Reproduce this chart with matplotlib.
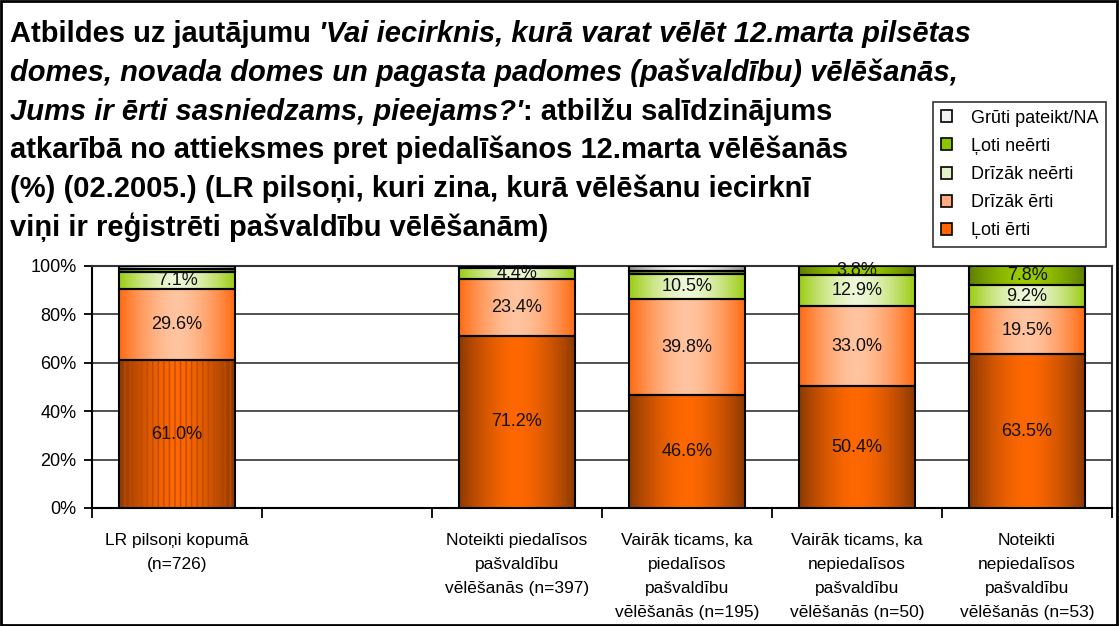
import numpy as np
import matplotlib
matplotlib.use("Agg")
import matplotlib.pyplot as plt
from matplotlib.colors import LinearSegmentedColormap
from matplotlib.patches import Patch, Rectangle

plt.rcParams['font.family'] = ['Liberation Sans', 'DejaVu Sans']

# data
categories = ["LR pilsoņi kopumā\n(n=726)", "",
              "Noteikti piedalīsos\npašvaldību\nvēlēšanās (n=397)",
              "Vairāk ticams, ka\npiedalīsos\npašvaldību\nvēlēšanās (n=195)",
              "Vairāk ticams, ka\nnepiedalīsos\npašvaldību\nvēlēšanās (n=50)",
              "Noteikti\nnepiedalīsos\npašvaldību\nvēlēšanās (n=53)"]
series = ["Ļoti ērti", "Drīzāk ērti", "Drīzāk neērti", "Ļoti neērti", "Grūti pateikt/NA"]
loti_erti = [61.0, 0, 71.2, 46.6, 50.4, 63.5]
drizak_erti = [29.6, 0, 23.4, 39.8, 33.0, 19.5]
drizak_neerti = [7.1, 0, 4.4, 10.5, 12.9, 9.2]
loti_neerti = [1.2, 0, 0.6, 1.0, 3.8, 7.8]
grut_na = [1.1, 0, 0.4, 2.1, 0.0, 0.0]
values = [loti_erti, drizak_erti, drizak_neerti, loti_neerti, grut_na]

# gradient colors (edge, center) and legend swatch colours
grad = [("#8c3a02", "#ff6800"), ("#ff6a10", "#ffc4a0"), ("#9acc10", "#eef7d8"),
        ("#5f7f00", "#9acc00"), ("#909090", "#f4f4f4")]
swatch = ["#ff6600", "#ffaa80", "#e3f2c6", "#8fc400", "#f2f2f2"]
show_label = [True, True, True, True, False]

W, H = 1119, 626
fig = plt.figure(figsize=(W / 100, H / 100), dpi=100)
ax = fig.add_axes([92 / W, 1 - 508 / H, (1112 - 92) / W, (508 - 266) / H])

x = np.arange(len(categories))
bw = 0.68
gx = np.abs(np.linspace(-1, 1, 200))[None, :]
bottom = np.zeros(len(categories))
for k, vals in enumerate(values):
    cmap = LinearSegmentedColormap.from_list("g%d" % k, [grad[k][1], grad[k][0]])
    for i, v in enumerate(vals):
        if v <= 0:
            continue
        b = bottom[i]
        rect = Rectangle((x[i] - bw / 2, b), bw, v, facecolor="none",
                         edgecolor="black", linewidth=1.5, zorder=4)
        ax.add_patch(rect)
        im = ax.imshow(gx ** 1.6, cmap=cmap, aspect="auto",
                       extent=(x[i] - bw / 2, x[i] + bw / 2, b, b + v), zorder=3)
        im.set_clip_path(rect)
        if k == 0 and i == 0:
            # striped bar for the total
            ax.add_patch(Rectangle((x[i] - bw / 2, b), bw, v, facecolor="none",
                                   edgecolor="#c24a00", hatch="|||", linewidth=0, zorder=3.5))
        if show_label[k] and v > 2:
            ax.text(x[i], b + v / 2, "%.1f%%" % v, ha="center", va="center",
                    fontsize=13, color="#111111", zorder=5)
    bottom += np.array(vals)

ax.set_xlim(-0.5, len(categories) - 0.5)
ax.set_ylim(0, 100)
ax.set_yticks(np.arange(0, 101, 20))
ax.set_yticklabels(["%d%%" % t for t in range(0, 101, 20)], fontsize=13)
ax.yaxis.grid(True, color="#333333", linewidth=1.2, zorder=0)
ax.set_axisbelow(True)
ax.set_xticks(np.arange(-0.5, len(categories), 1))
ax.set_xticklabels([])
ax.set_xticks(x, minor=True)
ax.set_xticklabels(categories, minor=True, fontsize=12.5, linespacing=1.75, va="top")
ax.tick_params(axis="x", which="major", length=7, width=1.3, direction="out")
ax.tick_params(axis="x", which="minor", length=0, pad=18)
ax.tick_params(axis="y", length=6, width=1.3, pad=5)
for s in ax.spines.values():
    s.set_linewidth(1.5)
ax.spines["top"].set_color("#333333")
ax.spines["right"].set_color("#333333")

# legend
handles = [Patch(facecolor=swatch[k], edgecolor="black", linewidth=1.2) for k in range(5)][::-1]
leg = fig.legend(handles, series[::-1], loc="upper left",
                 bbox_to_anchor=(933 / W, 1 - 102 / H), fontsize=13, frameon=True,
                 fancybox=False, edgecolor="black", handlelength=0.65, handleheight=0.65,
                 labelspacing=0.62, borderpad=0.42, handletextpad=1.05, borderaxespad=0)
leg.get_frame().set_linewidth(1.2)

# title with mixed bold / bold-italic
title_lines = [
    [("Atbildes uz jautājumu ", "normal"), ("'Vai iecirknis, kurā varat vēlēt 12.marta pilsētas", "italic")],
    [("domes, novada domes un pagasta padomes (pašvaldību) vēlēšanās,", "italic")],
    [("Jums ir ērti sasniedzams, pieejams?'", "italic"), (": atbilžu salīdzinājums", "normal")],
    [("atkarībā no attieksmes pret piedalīšanos 12.marta vēlēšanās", "normal")],
    [("(%) (02.2005.) (LR pilsoņi, kuri zina, kurā vēlēšanu iecirknī", "normal")],
    [("viņi ir reģistrēti pašvaldību vēlēšanām)", "normal")],
]
renderer = fig.canvas.get_renderer()
for j, segs in enumerate(title_lines):
    xp = 10
    yb = 42 + j * 38.8
    for txt, style in segs:
        t = fig.text(xp / W, 1 - yb / H, txt, fontsize=21, fontweight="bold",
                     fontstyle=style, ha="left", va="baseline")
        xp = t.get_window_extent(renderer).x1

fig.add_artist(Rectangle((0.001, 0.001), 0.997, 0.997, transform=fig.transFigure,
                         fill=False, edgecolor="black", linewidth=2))

fig.savefig("out.png", dpi=100)
